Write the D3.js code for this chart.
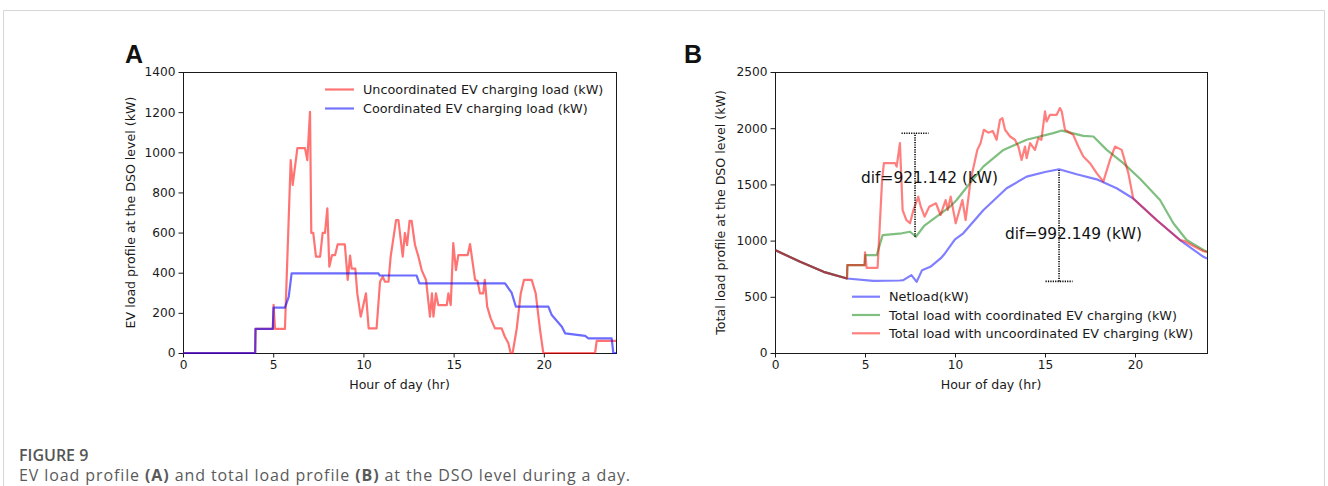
<!DOCTYPE html>
<html>
<head>
<meta charset="utf-8">
<script src="https://cdn.jsdelivr.net/npm/d3@7"></script>
<style>
  html, body { margin: 0; padding: 0; background: #fff; }
  svg { display: block; }
</style>
</head>
<body>
<script>
// ---------------- DATA ----------------
// Panel A: EV load profile (kW) vs hour of day
const hoursAUnc = [0,4.0,4.02,4.98,5.02,5.1,5.65,5.97,6.08,6.34,6.76,6.89,7.04,7.11,7.22,7.37,7.6,7.74,7.87,8.0,8.11,8.26,8.43,8.57,8.97,9.13,9.26,9.35,9.55,9.66,9.85,10.14,10.29,10.73,10.92,11.07,11.2,11.39,11.51,11.81,11.94,12.18,12.3,12.42,12.56,12.67,12.86,13.05,13.23,13.47,13.69,13.8,13.88,14.02,14.15,14.62,14.71,14.84,14.98,15.13,15.26,15.78,15.91,16.19,16.32,16.46,16.64,16.73,16.86,17.05,17.29,17.66,17.84,18.03,18.16,18.27,18.5,18.72,18.9,19.33,19.55,19.79,19.97,22.84,22.93,24];
const kwAUnc    = [0,0,120,120,240,120,120,961,837,1021,1021,961,1202,598,598,480,480,598,598,721,430,488,488,541,541,364,485,420,420,297,181,297,123,123,355,380,355,355,480,662,662,480,598,538,659,659,538,480,413,364,181,297,181,297,239,239,297,239,547,413,488,488,543,364,360,297,297,364,231,174,123,123,81,50,0,0,123,297,364,364,297,115,0,0,60,60];
const hoursACoord = [0,4.0,4.02,4.98,5.02,5.65,5.86,6.02,10.83,10.9,12.95,13.1,17.85,18.22,18.45,20.25,20.44,21.0,21.18,22.29,22.47,23.76,23.85,24];
const kwACoord    = [0,0,120,120,226,226,280,397,397,386,386,347,347,299,231,231,189,131,98,85,73,73,0,0];

// Panel B: total load profile (kW) vs hour of day
const hoursBNet = [0,1.4,2.7,4.0,5.46,6.94,7.13,7.58,7.87,8.17,8.63,9.2,9.44,10.0,10.46,11.57,12.87,13.98,15.0,15.78,16.76,17.87,18.98,19.9,21.2,22.5,23.8,24];
const kwBNet    = [916,811,722,663,642,645,648,693,633,737,767,841,886,1010,1065,1270,1466,1569,1610,1635,1590,1545,1466,1375,1183,1005,856,841];
const hoursBCoord = [0,1.4,2.7,4.0,4.02,4.98,5.02,5.65,5.98,7.04,7.5,7.83,8.28,9.11,9.72,10.09,10.83,11.57,12.69,13.98,15.46,15.93,17.13,17.69,18.43,19.35,20.28,21.39,22.13,22.87,23.8,24];
const kwBCoord    = [916,811,722,663,782,782,871,871,1049,1065,1079,1034,1130,1228,1302,1361,1510,1658,1807,1897,1956,1979,1932,1926,1807,1689,1550,1361,1154,1005,916,900];
const hoursBUnc = [0,1.4,2.7,4.0,4.02,4.98,5.0,5.09,5.7,5.95,6.05,6.67,6.76,6.94,7.09,7.3,7.5,7.69,7.96,8.1,8.31,8.57,8.94,9.2,9.48,9.6,9.76,10.04,10.41,10.59,10.87,11.24,11.42,11.6,11.85,12.1,12.31,12.5,12.63,12.78,13.06,13.33,13.52,13.7,13.89,13.98,14.17,14.44,14.63,14.8,15.0,15.09,15.28,15.65,15.83,15.93,16.11,16.57,16.85,17.13,17.5,17.87,18.24,18.61,18.89,19.26,19.63,19.9,21.2,22.5,22.75,23.8,24];
const kwBUnc    = [916,811,722,663,782,782,895,758,758,1540,1689,1689,1658,1867,1272,1183,1154,1272,1391,1302,1213,1302,1332,1228,1361,1272,1391,1154,1361,1183,1540,1807,1867,1986,1960,1975,1897,2075,2090,1986,1926,1897,1837,1718,1837,1733,1867,1807,1912,1897,2149,2060,2119,2119,2179,2149,1986,1941,1837,1748,1689,1600,1525,1718,1837,1807,1600,1375,1183,1005,995,905,900];

// Difference annotations (hour, low, high, label)
const difHours  = [7.78, 15.78];
const difLow    = [1034, 637];
const difHigh   = [1955, 1629];
const difLabels = ["dif=921.142 (kW)", "dif=992.149 (kW)"];
const difLabelPos = [[4.78, 1513], [12.78, 1011]];

// Ticks and labels
const xTicks  = [0, 5, 10, 15, 20];
const yTicksA = [0, 200, 400, 600, 800, 1000, 1200, 1400];
const yTicksB = [0, 500, 1000, 1500, 2000, 2500];
const legendA = ["Uncoordinated EV charging load (kW)", "Coordinated EV charging load (kW)"];
const legendB = ["Netload(kW)", "Total load with coordinated EV charging (kW)", "Total load with uncoordinated EV charging (kW)"];

// ---------------- DRAW ----------------
const W = 1328, H = 486;
const svg = d3.select("body").append("svg").attr("width", W).attr("height", H);
const FONT = "DejaVu Sans, sans-serif";
const INK = "#1a1a1a";

// figure frame
svg.append("path").attr("d", `M3.5,${H} V10.5 H1324.5 V${H}`)
  .attr("fill", "none").attr("stroke", "#d6d6d6").attr("stroke-width", 1);

const zip = (xs, ys) => xs.map((x, i) => [x, ys[i]]);

function panel(opts) {
  const { left, right, top, bottom, yMax, yTicks, ylabel, letter, letterX } = opts;
  const x = d3.scaleLinear().domain([0, 24]).range([left, right]);
  const y = d3.scaleLinear().domain([0, yMax]).range([bottom, top]);
  const g = svg.append("g");

  const xa = g.append("g").attr("transform", `translate(0,${bottom})`)
    .call(d3.axisBottom(x).tickValues(xTicks).tickSize(4.5).tickPadding(3).tickFormat(d3.format("d")));
  const ya = g.append("g").attr("transform", `translate(${left},0)`)
    .call(d3.axisLeft(y).tickValues(yTicks).tickSize(4.5).tickPadding(3).tickFormat(d3.format("d")));
  [xa, ya].forEach(a => {
    a.select(".domain").remove();
    a.selectAll("line").attr("stroke", INK).attr("stroke-width", 1);
    a.selectAll("text").attr("font-family", FONT).attr("font-size", 12.2).attr("fill", INK);
  });
  g.append("rect").attr("x", left + 0.5).attr("y", top + 0.5)
    .attr("width", right - left).attr("height", bottom - top)
    .attr("fill", "none").attr("stroke", INK).attr("stroke-width", 1);

  g.append("text").attr("x", (left + right) / 2).attr("y", bottom + 36)
    .attr("text-anchor", "middle").attr("font-family", FONT).attr("font-size", 12.6).attr("fill", INK)
    .text("Hour of day (hr)");
  g.append("text").attr("transform", `translate(${opts.ylabelX},${(top + bottom) / 2}) rotate(-90)`)
    .attr("text-anchor", "middle").attr("font-family", FONT).attr("font-size", 12.6).attr("fill", INK)
    .text(ylabel);
  g.append("text").attr("x", letterX).attr("y", 63)
    .attr("font-family", "Liberation Sans, Arial, sans-serif").attr("font-weight", "bold").attr("font-size", 25).attr("fill", "#111")
    .text(letter);

  const clip = "clip-" + letter;
  g.append("clipPath").attr("id", clip).append("rect")
    .attr("x", left).attr("y", top - 2).attr("width", right - left + 1).attr("height", bottom - top + 3);
  const plot = g.append("g").attr("clip-path", `url(#${clip})`);
  const line = d3.line().x(d => x(d[0])).y(d => y(d[1]));
  return { x, y, g, plot, line };
}

// ---- Panel A ----
const A = panel({ left: 183, right: 616, top: 72, bottom: 353, yMax: 1400, yTicks: yTicksA,
  ylabel: "EV load profile at the DSO level (kW)", ylabelX: 135, letter: "A", letterX: 125 });
A.plot.append("path").datum(zip(hoursAUnc, kwAUnc)).attr("d", A.line)
  .attr("fill", "none").attr("stroke", "#ff0000").attr("stroke-opacity", 0.55).attr("stroke-width", 2.2).attr("stroke-linejoin", "round");
A.plot.append("path").datum(zip(hoursACoord, kwACoord)).attr("d", A.line)
  .attr("fill", "none").attr("stroke", "#0000ff").attr("stroke-opacity", 0.58).attr("stroke-width", 2.2).attr("stroke-linejoin", "round");

const legAColors = ["#ff0000", "#0000ff"];
legendA.forEach((t, i) => {
  const yy = 89.5 + i * 19;
  A.g.append("line").attr("x1", 325).attr("x2", 354).attr("y1", yy).attr("y2", yy)
    .attr("stroke", legAColors[i]).attr("stroke-opacity", 0.55).attr("stroke-width", 2.2);
  A.g.append("text").attr("x", 363).attr("y", yy + 4.5)
    .attr("font-family", FONT).attr("font-size", 12.8).attr("fill", INK).text(t);
});

// ---- Panel B ----
const B = panel({ left: 775, right: 1207, top: 72, bottom: 353, yMax: 2500, yTicks: yTicksB,
  ylabel: "Total load profile at the DSO level (kW)", ylabelX: 725, letter: "B", letterX: 684 });
const seriesB = [
  { data: zip(hoursBNet, kwBNet), color: "#0000ff" },
  { data: zip(hoursBCoord, kwBCoord), color: "#008000" },
  { data: zip(hoursBUnc, kwBUnc), color: "#ff0000" }
];
seriesB.forEach(s => {
  B.plot.append("path").datum(s.data).attr("d", B.line)
    .attr("fill", "none").attr("stroke", s.color).attr("stroke-opacity", 0.5).attr("stroke-width", 2.2).attr("stroke-linejoin", "round");
});

// dif annotations
difHours.forEach((h, i) => {
  const xx = B.x(h);
  B.g.append("line").attr("x1", xx).attr("x2", xx).attr("y1", B.y(difLow[i])).attr("y2", B.y(difHigh[i]))
    .attr("stroke", "#000").attr("stroke-width", 1.6).attr("stroke-dasharray", "1.2,1.2");
  const capV = i === 0 ? difHigh[i] : difLow[i];
  B.g.append("line").attr("x1", B.x(h - 0.75)).attr("x2", B.x(h + 0.75)).attr("y1", B.y(capV)).attr("y2", B.y(capV))
    .attr("stroke", "#000").attr("stroke-width", 1.6).attr("stroke-dasharray", "1.2,1.2");
  B.g.append("text").attr("x", B.x(difLabelPos[i][0])).attr("y", B.y(difLabelPos[i][1]))
    .attr("font-family", FONT).attr("font-size", 15.4).attr("fill", "#111").text(difLabels[i]);
});

legendB.forEach((t, i) => {
  const yy = 296.7 + i * 18.3;
  B.g.append("line").attr("x1", 852).attr("x2", 880).attr("y1", yy).attr("y2", yy)
    .attr("stroke", seriesB[i].color).attr("stroke-opacity", 0.5).attr("stroke-width", 2.2);
  B.g.append("text").attr("x", 889).attr("y", yy + 4.5)
    .attr("font-family", FONT).attr("font-size", 12.8).attr("fill", INK).text(t);
});

// ---- Caption ----
svg.append("text").attr("x", 19).attr("y", 461)
  .attr("font-family", "Open Sans, Noto Sans, sans-serif").attr("font-size", 16).attr("font-weight", 600).attr("fill", "#555")
  .text("FIGURE 9");
const cap = svg.append("text").attr("x", 19).attr("y", 481)
  .attr("font-family", "Open Sans, Noto Sans, sans-serif").attr("font-size", 16).attr("letter-spacing", 0.9).attr("fill", "#5a5a5a");
[["EV load profile ", 400], ["(A)", 700], [" and total load profile ", 400], ["(B)", 700], [" at the DSO level during a day.", 400]]
  .forEach(([t, w]) => cap.append("tspan").attr("font-weight", w).text(t));
</script>
</body>
</html>
